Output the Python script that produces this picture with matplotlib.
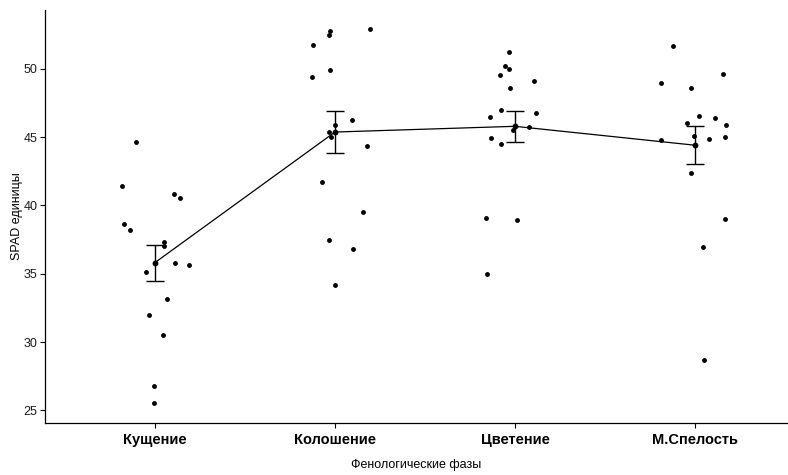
import numpy as np
import matplotlib
matplotlib.use("Agg")
from matplotlib import pyplot as plt

plt.rcParams["font.family"] = ["Liberation Sans", "DejaVu Sans"]

# фазы развития и замеры SPAD по каждой фазе
phases = ["Кущение", "Колошение", "Цветение", "М.Спелость"]

spad_kushchenie = [44.66, 41.46, 40.85, 40.58, 38.64, 38.17, 37.36, 37.0,
                   35.78, 35.63, 35.12, 33.17, 31.95, 30.49, 26.76, 25.51]
spad_koloshenie = [52.78, 52.51, 52.92, 51.77, 49.92, 49.43, 46.29, 45.88,
                   45.37, 45.04, 44.39, 41.73, 39.54, 37.44, 36.83, 34.17]
spad_cvetenie = [51.26, 50.22, 49.97, 49.58, 49.12, 48.61, 47.0, 46.78,
                 46.46, 45.73, 45.51, 44.97, 44.51, 39.05, 38.97, 34.98]
spad_spelost = [51.66, 49.61, 49.0, 48.58, 46.58, 46.43, 46.05, 45.88,
                45.07, 44.90, 45.0, 44.80, 42.39, 39.0, 36.98, 28.66]

# горизонтальный разброс точек (jitter)
jit_kushchenie = [-0.107, -0.185, 0.106, 0.139, -0.174, -0.139, 0.052, 0.048,
                  0.113, 0.187, -0.052, 0.065, -0.032, 0.044, -0.006, -0.006]
jit_koloshenie = [-0.028, -0.033, 0.194, -0.124, -0.026, -0.129, 0.094, -0.002,
                  -0.033, -0.021, 0.176, -0.072, 0.154, -0.032, 0.102, 0.002]
jit_cvetenie = [-0.033, -0.057, -0.035, -0.085, 0.104, -0.026, -0.079, 0.115,
                -0.139, 0.078, -0.013, -0.135, -0.079, -0.159, 0.013, -0.156]
jit_spelost = [-0.122, 0.156, -0.189, -0.021, 0.022, 0.113, -0.046, 0.171,
               -0.006, 0.079, 0.168, -0.189, -0.022, 0.168, 0.046, 0.052]

data = [spad_kushchenie, spad_koloshenie, spad_cvetenie, spad_spelost]
jitter = [jit_kushchenie, jit_koloshenie, jit_cvetenie, jit_spelost]

fig = plt.figure(figsize=(7.88, 4.75), dpi=100)
ax = fig.add_axes([0.0571, 0.1095, 0.9429, 0.8695])

# отдельные замеры
for i, (vals, jit) in enumerate(zip(data, jitter)):
    ax.plot(i + np.array(jit), vals, "o", color="black", ms=3.5, mew=0)

# среднее и стандартная ошибка
x = np.arange(len(phases))
means = np.array([np.mean(v) for v in data])
se = np.array([np.std(v, ddof=1) / np.sqrt(len(v)) for v in data])

ax.plot(x, means, "-", color="black", lw=0.9)
ax.errorbar(x, means, yerr=se, fmt="none", ecolor="black",
            elinewidth=1.0, capsize=6.5, capthick=1.0)
ax.plot(x, means, "o", color="black", ms=4.2, mew=0)

ax.set_xlim(-0.611, 3.517)
ax.set_ylim(24.08, 54.31)
ax.set_yticks([25, 30, 35, 40, 45, 50])
ax.set_xticks(x)
ax.set_xticklabels(phases, fontsize=10.5, fontweight="bold")

for side in ["top", "right"]:
    ax.spines[side].set_visible(False)
for side in ["left", "bottom"]:
    ax.spines[side].set_linewidth(0.9)

ax.tick_params(axis="y", labelsize=9, length=3.5, width=0.8, pad=2,
               labelcolor="#1a1a1a")
ax.tick_params(axis="x", length=3.5, width=0.8, pad=4, labelcolor="black")

ax.set_xlabel("Фенологические фазы", fontsize=9, labelpad=8)
ax.set_ylabel("SPAD единицы", fontsize=9, labelpad=0)

fig.savefig("out.png", dpi=100)
